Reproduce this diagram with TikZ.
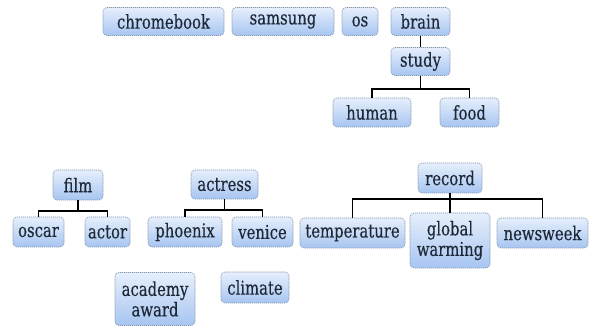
\documentclass[tikz,border=0pt]{standalone}
\usepackage{fontspec}
\setmainfont{DejaVu Serif}
\newfontfamily\boxfont[FakeStretch=0.78,FakeBold=0.3]{DejaVu Serif}
\usepackage{tikz}
\usetikzlibrary{shapes}
\usetikzlibrary{positioning}
\definecolor{boxtop}{HTML}{E6EFFC}
\definecolor{boxbot}{HTML}{A7C5F1}
\definecolor{boxline}{HTML}{8797AD}
\definecolor{boxtext}{HTML}{1E2836}
\tikzset{
    topic/.style = {rectangle, rounded corners=4pt, draw=boxline, line width=0.6pt,
                    dash pattern=on 1.2pt off 0.8pt, top color=boxtop, bottom color=boxbot,
                    text=boxtext, align=center, inner sep=0pt, minimum height=28pt,
                    font=\boxfont\fontsize{19}{20.5}\selectfont},
    edgen/.style = {draw=black, line width=1.4pt},
}

\begin{document}
\begin{tikzpicture}[x=1pt,y=-1pt]
  \useasboundingbox (0,0) rectangle (589,327);

  % top row
  \node[topic, minimum width=121pt] (chromebook) at (163.5,21.5) {chromebook};
  \node[topic, minimum width=102pt] (samsung) at (283,21.5) {samsung};
  \node[topic, minimum width=36pt] (os) at (360,21.5) {os};
  \node[topic, minimum width=59pt] (brain) at (420.5,21.5) {brain};
  \node[topic, minimum width=59pt] (study) at (420.5,61.5) {study};
  \node[topic, minimum width=78pt, minimum height=29pt] (human) at (372,112.5) {human};
  \node[topic, minimum width=59pt, minimum height=29pt] (food) at (469.5,112.5) {food};

  % film
  \node[topic, minimum width=50pt, minimum height=30pt] (film) at (78,185) {film};
  \node[topic, minimum width=51pt, minimum height=30pt] (oscar) at (38.5,232) {oscar};
  \node[topic, minimum width=45pt, minimum height=30pt] (actor) at (107.5,232) {actor};

  % actress
  \node[topic, minimum width=67pt, minimum height=29pt] (actress) at (224.5,184.5) {actress};
  \node[topic, minimum width=74pt, minimum height=30pt] (phoenix) at (185,232) {phoenix};
  \node[topic, minimum width=61pt, minimum height=30pt] (venice) at (262.5,232) {venice};
  \node[topic, minimum width=80pt, minimum height=53pt] (academy) at (155,299) {academy\\award};
  \node[topic, minimum width=68pt, minimum height=31pt] (climate) at (255,287.5) {climate};

  % record
  \node[topic, minimum width=64pt, minimum height=30pt] (record) at (450,178) {record};
  \node[topic, minimum width=105pt, minimum height=30pt] (temperature) at (352.5,233) {temperature};
  \node[topic, minimum width=80pt, minimum height=55pt] (global) at (450,240.5) {global\\warming};
  \node[topic, minimum width=91pt, minimum height=30pt] (newsweek) at (542.5,233) {newsweek};

  \coordinate (busstudy) at (420.5,89);
  \coordinate (busfilm) at (78,211);
  \coordinate (busactress) at (224.5,210);
  \coordinate (busrecord) at (450,199);

  \draw[edgen] (brain) -- (study);
  \draw[edgen] (study) -- (busstudy) -| (human);
  \draw[edgen] (busstudy) -| (food);
  \draw[edgen] (film) -- (busfilm) -| (oscar);
  \draw[edgen] (busfilm) -| (actor);
  \draw[edgen] (actress) -- (busactress) -| (phoenix);
  \draw[edgen] (busactress) -| (venice);
  \draw[edgen] (record) -- (busrecord) -| (temperature);
  \draw[edgen] (busrecord) -- (global);
  \draw[edgen] (busrecord) -| (newsweek);
\end{tikzpicture}
\end{document}
